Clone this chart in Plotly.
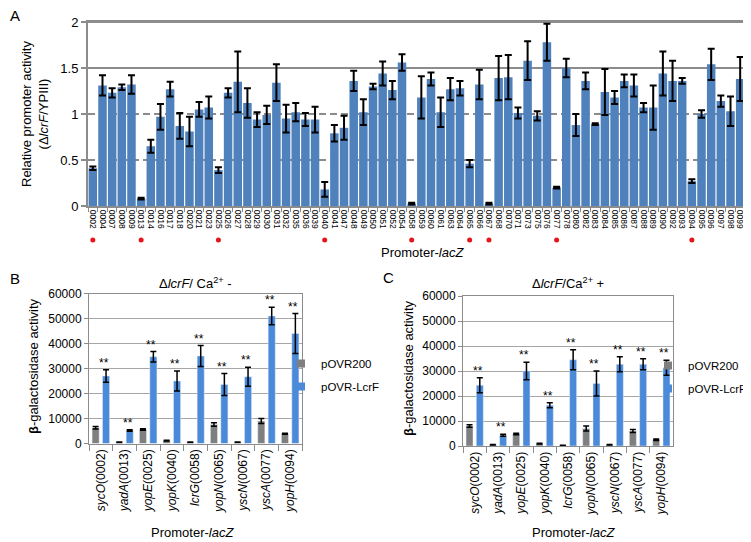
import plotly.graph_objects as go

# ---------------- Panel A data ----------------
promoters = ["0002", "0004", "0007", "0008", "0009", "0013", "0014", "0016", "0017", "0018",
             "0020", "0021", "0023", "0025", "0026", "0027", "0028", "0029", "0030", "0031",
             "0032", "0035", "0036", "0039", "0040", "0041", "0047", "0048", "0049", "0050",
             "0051", "0052", "0054", "0058", "0059", "0060", "0061", "0063", "0064", "0065",
             "0066", "0067", "0068", "0070", "0071", "0073", "0075", "0076", "0077", "0078",
             "0080", "0082", "0083", "0084", "0085", "0086", "0087", "0088", "0089", "0090",
             "0092", "0093", "0094", "0095", "0096", "0097", "0098", "0099"]
activity = [0.41, 1.31, 1.23, 1.29, 1.32, 0.08, 0.65, 0.97, 1.27, 0.87,
            0.81, 1.05, 1.07, 0.39, 1.23, 1.35, 1.12, 0.94, 0.99, 1.34,
            0.95, 1.02, 0.94, 0.94, 0.18, 0.79, 0.85, 1.36, 1.02, 1.30,
            1.44, 1.26, 1.56, 0.025, 1.18, 1.38, 1.02, 1.27, 1.28, 0.46,
            1.32, 0.025, 1.39, 1.40, 1.01, 1.58, 0.98, 1.78, 0.20, 1.50,
            0.88, 1.36, 0.89, 1.24, 1.18, 1.36, 1.31, 1.07, 1.07, 1.44,
            1.36, 1.36, 0.27, 1.00, 1.54, 1.14, 1.03, 1.38]
activity_err = [0.02, 0.11, 0.05, 0.03, 0.10, 0.01, 0.07, 0.14, 0.08, 0.14,
                0.16, 0.08, 0.12, 0.03, 0.05, 0.33, 0.16, 0.08, 0.10, 0.20,
                0.15, 0.10, 0.07, 0.14, 0.08, 0.09, 0.13, 0.11, 0.14, 0.03,
                0.13, 0.10, 0.09, 0.01, 0.23, 0.07, 0.16, 0.12, 0.08, 0.04,
                0.16, 0.01, 0.24, 0.24, 0.06, 0.21, 0.05, 0.20, 0.01, 0.10,
                0.12, 0.09, 0.01, 0.25, 0.07, 0.07, 0.12, 0.05, 0.24, 0.24,
                0.22, 0.03, 0.02, 0.04, 0.17, 0.06, 0.16, 0.24]
highlighted = ["0002", "0013", "0025", "0040", "0058", "0065", "0067", "0077", "0094"]
a_ticks = [0, 0.5, 1, 1.5, 2]
a_solid_grid = [1.5, 2]

# ---------------- Panels B and C data ----------------
genes = ["sycO", "yadA", "yopE", "yopK", "lcrG", "yopN", "yscN", "yscA", "yopH"]
gene_ids = ["0002", "0013", "0025", "0040", "0058", "0065", "0067", "0077", "0094"]
series_names = ["pOVR200", "pOVR-LcrF"]

b_ctrl = [6300, 500, 5600, 1200, 500, 7600, 500, 9000, 3900]
b_ctrl_err = [500, 80, 300, 150, 80, 700, 80, 1000, 200]
b_lcrf = [27000, 5200, 34700, 25000, 35000, 23600, 26700, 51000, 44000]
b_lcrf_err = [2500, 300, 2100, 4000, 4200, 4400, 3800, 3500, 8000]

c_ctrl = [8000, 500, 4800, 1000, 300, 7000, 500, 6000, 2500]
c_ctrl_err = [500, 80, 300, 150, 50, 1000, 80, 600, 300]
c_lcrf = [24300, 4300, 30000, 16300, 34500, 25000, 32700, 32700, 31300]
c_lcrf_err = [3000, 400, 3500, 1000, 4000, 5000, 3000, 2200, 3000]

bc_ticks = [0, 10000, 20000, 30000, 40000, 50000, 60000]

# ---------------- styling ----------------
FONT = "Arial, Liberation Sans, sans-serif"
BLUE_A = "#4F81BD"
BLUE = "#4A8AD8"
GRAY = "#7F7F7F"
AXIS_GRAY = "#8C8C8C"
GRID_GRAY = "#A6A6A6"
OFF = 8                    # the page body adds an 8 px margin around the figure
W, H = 751 - OFF, 542 - OFF


def px_x(p):
    """screen pixel -> paper fraction"""
    return (p - OFF) / W


def px_y(p):
    return 1 - (p - OFF) / H


gene_labels = [f"<i>{g}</i>({i})" for g, i in zip(genes, gene_ids)]
colors = [GRAY, BLUE]

fig = go.Figure()

# Panel A bars
fig.add_trace(go.Bar(
    x=promoters, y=activity, xaxis="x", yaxis="y",
    marker=dict(color=BLUE_A, line=dict(width=0)),
    error_y=dict(type="data", array=activity_err, color="black", thickness=2, width=3.5),
    showlegend=False, name="Relative promoter activity"))

# Red markers under the LcrF-regulated promoters (thin strip axis below the labels)
fig.add_trace(go.Scatter(
    x=highlighted, y=[0.5] * len(highlighted), xaxis="x", yaxis="y5",
    mode="markers", marker=dict(color="#E8141C", size=5),
    showlegend=False, hoverinfo="skip", name="LcrF-regulated"))

# Panels B and C
panels = [("x2", "y2", "legend", (b_ctrl, b_lcrf), (b_ctrl_err, b_lcrf_err)),
          ("x3", "y3", "legend2", (c_ctrl, c_lcrf), (c_ctrl_err, c_lcrf_err))]
for xa, ya, lg, vals, errs in panels:
    for name, col, v, e in zip(series_names, colors, vals, errs):
        fig.add_trace(go.Bar(
            x=gene_labels, y=v, xaxis=xa, yaxis=ya, name=name, width=0.3,
            marker=dict(color=col), showlegend=False,
            error_y=dict(type="data", array=e, color="black", thickness=1.5, width=3)))
        # legend entry with a small square key
        fig.add_trace(go.Scatter(
            x=[None], y=[None], xaxis=xa, yaxis=ya, name=name, mode="markers",
            marker=dict(color=col, symbol="square", size=8),
            legend=lg, legendgroup=lg + name, showlegend=True))

annotations = []
# significance stars
for xa, ya, lg, vals, errs in panels:
    for lab, v, e in zip(gene_labels, vals[1], errs[1]):
        annotations.append(dict(x=lab, y=v + e, xref=xa, yref=ya, text="**",
                                showarrow=False, yanchor="bottom", xshift=3, yshift=-2,
                                font=dict(size=12, family=FONT, color="black")))


def txt(x, y, text, size=13, angle=0, xanchor="center"):
    return dict(x=px_x(x), y=px_y(y), xref="paper", yref="paper", text=text, showarrow=False,
                xanchor=xanchor, yanchor="middle", textangle=angle,
                font=dict(size=size, family=FONT, color="black"))


annotations += [
    txt(8, 15, "A", 15, xanchor="left"),
    txt(8, 278, "B", 15, xanchor="left"),
    txt(381, 277, "C", 15, xanchor="left"),
    txt(195, 283, "Δ<i>lcrF</i>/ Ca<sup>2+</sup> -"),
    txt(568, 283, "Δ<i>lcrF</i>/Ca<sup>2+</sup> +"),
    # axis titles
    txt(35, 114, "Relative promoter activity<br>(Δ<i>lcrF</i>/YPIII)", 13, angle=-90),
    txt(422, 252, "Promoter-<i>lacZ</i>", 13),
    txt(33, 366, "<b>β</b>-galactosidase activity", 13, angle=-90),
    txt(408, 368, "<b>β</b>-galactosidase activity", 13, angle=-90),
    txt(192, 532, "Promoter-<i>lacZ</i>", 13),
    txt(573, 532, "Promoter-<i>lacZ</i>", 13),
]

# solid gridlines of panel A (the others are dashed)
shapes = [dict(type="line", xref="x domain", x0=0, x1=1, yref="y", y0=v, y1=v,
               layer="below", line=dict(color=AXIS_GRAY, width=2)) for v in a_solid_grid]

tickfont_a = dict(size=13, family=FONT, color="black")
tickfont_bc = dict(size=12, family=FONT, color="black")

common_y_bc = dict(range=[0, 60000], tickvals=bc_ticks, tickformat="d", tickfont=tickfont_bc,
                   ticks="outside", ticklen=4, tickcolor=AXIS_GRAY,
                   showline=True, linecolor=AXIS_GRAY, linewidth=1, mirror=True,
                   showgrid=True, gridcolor=GRID_GRAY, gridwidth=1, zeroline=False,
                   automargin=False)
common_x_bc = dict(type="category", tickangle=-90, tickfont=tickfont_bc,
                   ticks="outside", tickson="boundaries", ticklen=6, tickcolor=AXIS_GRAY,
                   showline=True, linecolor=AXIS_GRAY, linewidth=1, mirror=True,
                   showgrid=False, automargin=False)
legend_common = dict(xanchor="left", yanchor="middle", bgcolor="rgba(0,0,0,0)",
                     font=dict(size=11.5, family=FONT, color="black"),
                     traceorder="grouped", tracegroupgap=4, indentation=-15,
                     itemsizing="trace")

fig.update_layout(
    width=W, height=H, autosize=False,
    margin=dict(l=0, r=0, t=0, b=0, autoexpand=False),
    paper_bgcolor="white", plot_bgcolor="white",
    font=dict(family=FONT, color="black"),
    barmode="group",
    bargap=0.12,
    annotations=annotations,
    shapes=shapes,
    # ---- Panel A ----
    xaxis=dict(domain=[px_x(88), px_x(745)], anchor="y", type="category",
               range=[-0.5, len(promoters) - 0.5],
               tickmode="array", tickvals=promoters, ticktext=promoters,
               tickangle=90, tickfont=dict(size=8.5, family=FONT, color="black"),
               ticks="outside", tickson="boundaries", ticklen=4, tickcolor=AXIS_GRAY, tickwidth=1,
               showline=True, linecolor=AXIS_GRAY, linewidth=2, mirror=True,
               showgrid=False, automargin=False),
    yaxis=dict(domain=[px_y(206), px_y(22)], anchor="x", range=[0, 2], tickvals=a_ticks,
               ticktext=[f"{t:g}" for t in a_ticks], tickfont=tickfont_a,
               ticks="outside", ticklen=5, tickcolor=AXIS_GRAY, tickwidth=2,
               showline=True, linecolor=AXIS_GRAY, linewidth=2, mirror=True,
               showgrid=True, gridcolor=AXIS_GRAY, gridwidth=2, griddash="7px,4px",
               zeroline=False, automargin=False),
    yaxis5=dict(domain=[px_y(246), px_y(234)], anchor="x", range=[0, 1],
                showticklabels=False, ticks="", showline=False,
                showgrid=False, zeroline=False, automargin=False, fixedrange=True),
    # ---- Panel B ----
    xaxis2=dict(domain=[px_x(89), px_x(302)], anchor="y2", **common_x_bc),
    yaxis2=dict(domain=[px_y(443.5), px_y(293.5)], anchor="x2", **common_y_bc),
    # ---- Panel C ----
    xaxis3=dict(domain=[px_x(463), px_x(673)], anchor="y3", **common_x_bc),
    yaxis3=dict(domain=[px_y(446), px_y(296)], anchor="x3", **common_y_bc),
    legend=dict(x=px_x(296), y=px_y(375), **legend_common),
    legend2=dict(x=px_x(663), y=px_y(377), **legend_common),
)

fig.write_html("out.html")
